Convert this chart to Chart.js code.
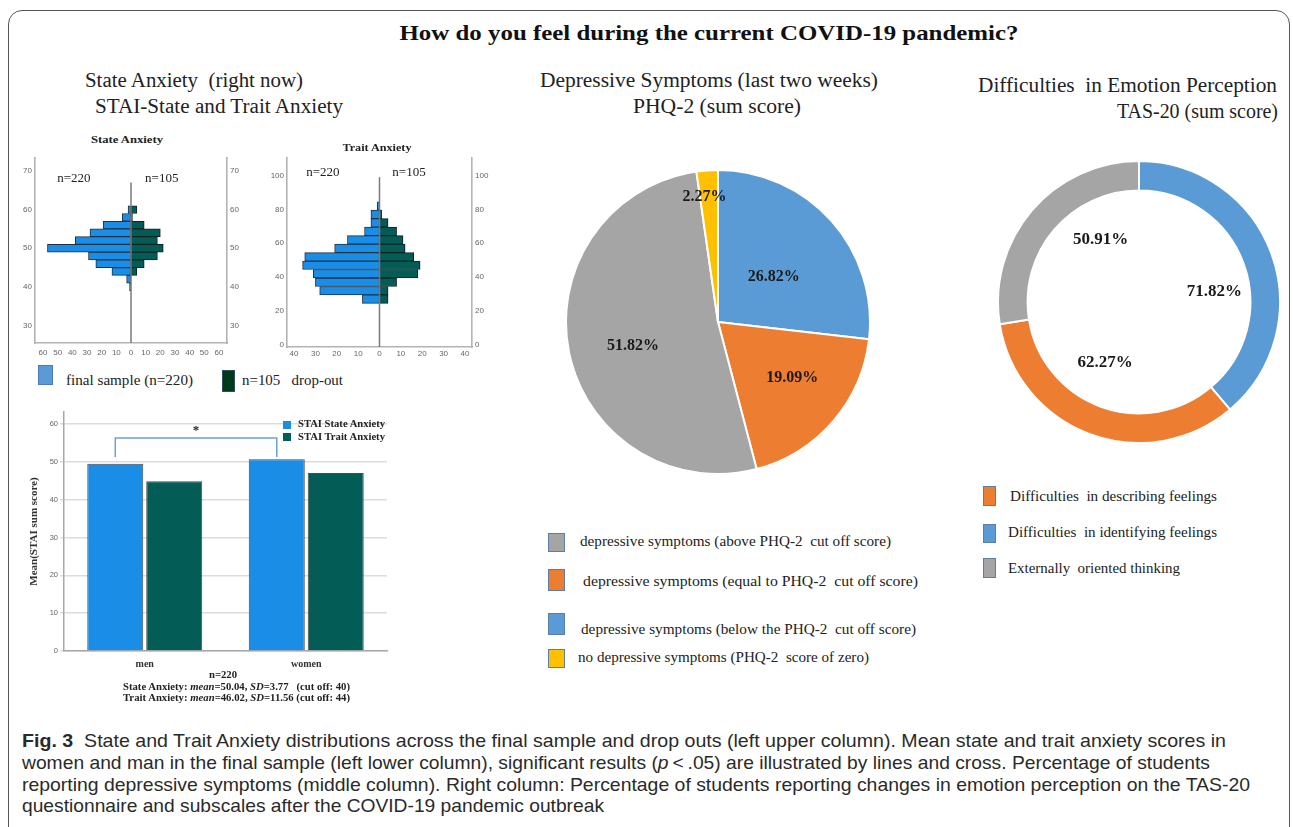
<!DOCTYPE html>
<html>
<head>
<meta charset="utf-8">
<script src="https://cdn.jsdelivr.net/npm/chart.js@4.4.1/dist/chart.umd.min.js"></script>
<style>
  html, body { margin:0; padding:0; background:#fff; }
  body { width:1293px; height:827px; position:relative; overflow:hidden; }
  .box { position:absolute; }
  .t { position:absolute; white-space:pre; line-height:1.2; color:#222; }
  .sq { position:absolute; box-sizing:border-box; }
  #frame { position:absolute; left:8px; top:10px; width:1282px; height:840px; border:1px solid #555; border-radius:14px; box-sizing:border-box; }
</style>
</head>
<body>
<div id="frame"></div>
<div class="box" id="bStateHist" style="left:15px;top:150px;width:235px;height:212px"><canvas id="cStateHist"></canvas></div>
<div class="box" id="bTraitHist" style="left:265px;top:150px;width:230px;height:212px"><canvas id="cTraitHist"></canvas></div>
<div class="box" id="bBar" style="left:20px;top:405px;width:375px;height:265px"><canvas id="cBar"></canvas></div>
<div class="box" id="bPie" style="left:565px;top:169px;width:306px;height:306px"><canvas id="cPie"></canvas></div>
<div class="box" id="bDonut" style="left:997px;top:160px;width:284px;height:284px"><canvas id="cDonut"></canvas></div>
<script>
// ---------------- DATA ----------------
// State anxiety histogram (bin centres, counts)
const stateBins  = [60, 58, 56, 54, 52, 50, 48, 46, 44, 42, 40];
const stateFinal = [2, 6, 19, 28, 38, 57, 29, 24, 13, 3, 1];
const stateDrop  = [4, 1, 9, 20, 18, 22, 18, 9, 4, 0, 0];
// Trait anxiety histogram
const traitBins  = [82, 77, 72, 67, 62, 57, 52, 47, 42, 37, 32, 27];
const traitFinal = [1, 4, 4, 7, 15, 21, 35, 36, 31, 30, 28, 8];
const traitDrop  = [0, 1, 4, 8, 11, 12, 16, 19, 18, 8, 4, 4];
// Mean STAI by gender
const genders    = ['men', 'women'];
const stateMeans = [49.5, 50.7];
const traitMeans = [44.9, 47.1];
// PHQ-2
const phqLabels = ['depressive symptoms (below the PHQ-2  cut off score)',
                   'depressive symptoms (equal to PHQ-2  cut off score)',
                   'depressive symptoms (above PHQ-2  cut off score)',
                   'no depressive symptoms (PHQ-2  score of zero)'];
const phqValues = [26.82, 19.09, 51.82, 2.27];
// TAS-20
const tasLabels = ['Difficulties  in identifying feelings', 'Difficulties  in describing feelings', 'Externally  oriented thinking'];
const tasValues = [71.82, 62.27, 50.91];

// ---------------- STYLE ----------------
const BLUE_H = '#1a8de6', TEAL_H = '#035c56';
const C_BLUE = '#5b9bd5', C_ORANGE = '#ed7d31', C_GRAY = '#a5a5a5', C_YELLOW = '#ffc000';
const SERIF = '"Liberation Serif", "DejaVu Serif", serif';
const SANS = '"Liberation Sans", Arial, sans-serif';
Chart.defaults.animation = false;
Chart.defaults.responsive = true;
Chart.defaults.maintainAspectRatio = false;
Chart.defaults.plugins.legend.display = false;
Chart.defaults.plugins.tooltip.enabled = false;

// ---------------- TEXT HELPER ----------------
function T(html, x, y, o) {
  const d = document.createElement('div');
  d.className = 't';
  d.innerHTML = html;
  d.style.fontFamily = o.family || SERIF;
  d.style.fontSize = (o.size || 14) + 'px';
  d.style.fontWeight = o.weight || 'normal';
  if (o.color) d.style.color = o.color;
  d.style.left = x + 'px';
  d.style.top = y + 'px';
  document.body.appendChild(d);
  const w = d.getBoundingClientRect().width;
  const sx = o.w ? o.w / w : 1;
  const al = o.align || 'left';
  if (al === 'center') { d.style.transformOrigin = 'center center'; d.style.transform = `translate(-50%,-50%) scaleX(${sx})`; }
  else if (al === 'right') { d.style.transformOrigin = 'right center'; d.style.transform = `translate(-100%,-50%) scaleX(${sx})`; }
  else { d.style.transformOrigin = 'left center'; d.style.transform = `translate(0,-50%) scaleX(${sx})`; }
  return d;
}
function SQ(x, y, w, h, fill, border) {
  const d = document.createElement('div');
  d.className = 'sq';
  Object.assign(d.style, { left: x + 'px', top: y + 'px', width: w + 'px', height: h + 'px', background: fill, border: '1.5px solid ' + (border || '#5a7ea8') });
  document.body.appendChild(d);
}

// ---------------- HISTOGRAMS ----------------
const pyramidPlugin = {
  id: 'pyramid',
  afterDatasetsDraw(chart, args, opts) {
    const { ctx, scales: { x, y } } = chart;
    ctx.save();
    ctx.strokeStyle = '#7a7a7a';
    ctx.lineWidth = 1.5;
    ctx.beginPath();
    ctx.moveTo(x.getPixelForValue(0), y.getPixelForValue(y.min));
    ctx.lineTo(x.getPixelForValue(0), y.getPixelForValue(opts.lineTop));
    ctx.stroke();
    ctx.fillStyle = '#222';
    ctx.font = '13px ' + SERIF;
    ctx.textAlign = 'center';
    ctx.textBaseline = 'middle';
    opts.notes.forEach(n => ctx.fillText(n.text, x.getPixelForValue(n.x), y.getPixelForValue(n.y)));
    ctx.restore();
  }
};
function pyramid(id, bins, left, right, cfg) {
  const tickFont = { family: SANS, size: 8 };
  const yAxis = (pos, w) => ({
    type: 'linear', position: pos, min: cfg.ymin, max: cfg.ymax, stacked: pos === 'left', offset: false,
    grid: { display: false, drawTicks: false, offset: false },
    border: { display: true, color: '#b3b3b3', width: 1.6 },
    ticks: { stepSize: cfg.ystep, includeBounds: false, font: tickFont, color: '#666', padding: 3, autoSkip: false },
    afterFit: s => { s.width = w; }
  });
  return new Chart(document.getElementById(id), {
    type: 'bar',
    data: {
      datasets: [
        { data: bins.map((b, i) => ({ x: -left[i], y: b })), backgroundColor: BLUE_H, borderColor: '#203040', borderWidth: 1, borderSkipped: false, stack: 's' },
        { data: bins.map((b, i) => ({ x: right[i], y: b })), backgroundColor: TEAL_H, borderColor: '#102020', borderWidth: 1, borderSkipped: false, stack: 's' }
      ]
    },
    options: {
      indexAxis: 'y',
      categoryPercentage: 1, barPercentage: 1,
      layout: { padding: { top: cfg.padTop, left: 0, right: 0, bottom: 0 } },
      scales: {
        x: {
          type: 'linear', min: -cfg.xmax, max: cfg.xmax, stacked: true, offset: false,
          grid: { display: false, drawTicks: false },
          border: { display: true, color: '#b3b3b3', width: 1.6 },
          ticks: { stepSize: 10, includeBounds: false, autoSkip: false, maxRotation: 0, font: tickFont, color: '#666', padding: cfg.xpad, callback: v => Math.abs(v) },
          afterFit: s => { s.height = cfg.xh; }
        },
        y: yAxis('left', cfg.lw),
        y2: yAxis('right', cfg.rw)
      },
      plugins: { pyramid: { lineTop: cfg.lineTop, notes: cfg.notes } }
    },
    plugins: [pyramidPlugin]
  });
}
pyramid('cStateHist', stateBins, stateFinal, stateDrop, {
  ymin: 25.5, ymax: 73.4, ystep: 10, xmax: 65.5, padTop: 5, xh: 19, xpad: 5, lw: 20, rw: 23,
  lineTop: 67, notes: [{ text: 'n=220', x: -39, y: 67.9 }, { text: 'n=105', x: 21, y: 67.9 }]
});
pyramid('cTraitHist', traitBins, traitFinal, traitDrop, {
  ymin: -1.2, ymax: 110.4, ystep: 20, xmax: 43.3, padTop: 7, xh: 15, xpad: 2, lw: 22, rw: 23,
  lineTop: 99, notes: [{ text: 'n=220', x: -26.5, y: 101.4 }, { text: 'n=105', x: 13.8, y: 101.4 }]
});

// ---------------- BAR CHART ----------------
const sigPlugin = {
  id: 'sig',
  afterDatasetsDraw(chart) {
    const { ctx, scales: { y } } = chart;
    const m = chart.getDatasetMeta(0).data;
    const x1 = m[0].x, x2 = m[1].x;
    const yb = y.getPixelForValue(51.3), yt = y.getPixelForValue(56.3);
    ctx.save();
    ctx.strokeStyle = '#6aa0db';
    ctx.lineWidth = 1.5;
    ctx.beginPath();
    ctx.moveTo(x1, yb); ctx.lineTo(x1, yt); ctx.lineTo(x2, yt); ctx.lineTo(x2, yb);
    ctx.stroke();
    ctx.fillStyle = '#222';
    ctx.font = 'bold 13px ' + SERIF;
    ctx.textAlign = 'center'; ctx.textBaseline = 'middle';
    ctx.fillText('*', (x1 + x2) / 2, y.getPixelForValue(58.3));
    ctx.restore();
  }
};
new Chart(document.getElementById('cBar'), {
  type: 'bar',
  data: {
    labels: genders,
    datasets: [
      { label: 'STAI State Anxiety', data: stateMeans, backgroundColor: BLUE_H, borderColor: '#4a4a4a', borderWidth: 1 },
      { label: 'STAI Trait Anxiety', data: traitMeans, backgroundColor: TEAL_H, borderColor: '#4a4a4a', borderWidth: 1 }
    ]
  },
  options: {
    categoryPercentage: 0.73, barPercentage: 0.95,
    layout: { padding: { top: 7, right: 8, left: 0, bottom: 0 } },
    scales: {
      x: {
        grid: { display: false, drawTicks: false },
        border: { display: true, color: '#a8a8a8', width: 1.5 },
        ticks: { font: { family: SERIF, size: 10, weight: 'bold' }, color: '#333', padding: 7 },
        afterFit: s => { s.height = 19; }
      },
      y: {
        min: 0, max: 63.2,
        grid: { color: '#dcdcdc', lineWidth: 1.5, tickLength: 4 },
        border: { display: true, color: '#a8a8a8', width: 1.5 },
        ticks: { stepSize: 10, includeBounds: false, font: { family: SANS, size: 7.5 }, color: '#666', padding: 2 },
        title: { display: true, text: 'Mean(STAI sum score)', font: { family: SERIF, size: 11, weight: 'bold' }, color: '#333', padding: { top: 8, bottom: 2 } },
        afterFit: s => { s.width = 44; }
      }
    }
  },
  plugins: [sigPlugin]
});

// ---------------- PIE / DOUGHNUT ----------------
const arcLabelPlugin = {
  id: 'arcLabels',
  afterDatasetsDraw(chart, args, opts) {
    const ctx = chart.ctx;
    const meta = chart.getDatasetMeta(0);
    const vals = chart.data.datasets[0].data;
    ctx.save();
    ctx.fillStyle = '#1a1a1a';
    ctx.font = 'bold ' + opts.size + 'px ' + SERIF;
    ctx.textAlign = 'center'; ctx.textBaseline = 'middle';
    meta.data.forEach((arc, i) => {
      const p = arc.getProps(['x', 'y', 'startAngle', 'endAngle', 'outerRadius'], true);
      const a = (p.startAngle + p.endAngle) / 2 + opts.shift[i] * Math.PI / 180;
      const r = p.outerRadius * opts.radius[i];
      ctx.fillText(vals[i].toFixed(2) + '%', p.x + Math.cos(a) * r, p.y + Math.sin(a) * r);
    });
    ctx.restore();
  }
};
new Chart(document.getElementById('cPie'), {
  type: 'pie',
  data: { labels: phqLabels, datasets: [{ data: phqValues, backgroundColor: [C_BLUE, C_ORANGE, C_GRAY, C_YELLOW], borderColor: '#fff', borderWidth: 2 }] },
  options: { layout: { padding: 0 }, plugins: { arcLabels: { size: 16, radius: [0.47, 0.61, 0.58, 0.83], shift: [3, -4, -4, -2] } } },
  plugins: [arcLabelPlugin]
});
new Chart(document.getElementById('cDonut'), {
  type: 'doughnut',
  data: { labels: tasLabels, datasets: [{ data: tasValues, backgroundColor: [C_BLUE, C_ORANGE, C_GRAY], borderColor: '#fff', borderWidth: 2 }] },
  options: { cutout: '79%', layout: { padding: 0 }, plugins: { arcLabels: { size: 17, radius: [0.54, 0.49, 0.52], shift: [12, 9, 18] } } },
  plugins: [arcLabelPlugin]
});

// ---------------- TEXTS ----------------
T('How do you feel during the current COVID-19 pandemic?', 709, 33, { size: 22, weight: 'bold', w: 619, align: 'center', color: '#111' });
T('State Anxiety  (right now)', 85, 80, { size: 20, w: 218 });
T('STAI-State and Trait Anxiety', 95, 106, { size: 20, w: 248 });
T('Depressive Symptoms (last two weeks)', 540, 80, { size: 20, w: 338 });
T('PHQ-2 (sum score)', 717, 106, { size: 20, w: 168, align: 'center' });
T('Difficulties  in Emotion Perception', 978, 85, { size: 20, w: 299 });
T('TAS-20 (sum score)', 1278, 111, { size: 20, w: 161, align: 'right' });

T('State Anxiety', 127, 140, { size: 11, weight: 'bold', w: 72, align: 'center' });
T('Trait Anxiety', 377, 148, { size: 11, weight: 'bold', w: 69, align: 'center' });

SQ(38, 365, 15, 20, C_BLUE, '#4a7db5');
T('final sample (n=220)', 66, 380, { size: 15, w: 127 });
SQ(222, 370, 13, 22, '#003a1c', '#2f4f5f');
T('n=105   drop-out', 242, 380, { size: 15, w: 101 });

SQ(283, 421, 8, 8, BLUE_H, BLUE_H);
T('STAI State Anxiety', 298, 424, { size: 10, weight: 'bold', w: 87 });
SQ(283, 433, 8, 8, TEAL_H, TEAL_H);
T('STAI Trait Anxiety', 298, 437, { size: 10, weight: 'bold', w: 87 });

T('n=220', 223, 675, { size: 10, weight: 'bold', w: 28, align: 'center' });
T('State Anxiety: <i>mean</i>=50.04, <i>SD</i>=3.77   (cut off: 40)', 123, 687, { size: 10, weight: 'bold', w: 227 });
T('Trait Anxiety: <i>mean</i>=46.02, <i>SD</i>=11.56 (cut off: 44)', 123, 698, { size: 10, weight: 'bold', w: 227 });

// PHQ-2 legend
SQ(548, 533, 17, 19, C_GRAY);
T(phqLabels[2], 580, 542, { size: 14, w: 311 });
SQ(548, 569, 17, 22, C_ORANGE);
T(phqLabels[1], 583, 582, { size: 14, w: 335 });
SQ(548, 613, 17, 22, C_BLUE);
T(phqLabels[0], 581, 630, { size: 14, w: 335 });
SQ(548, 649, 17, 19, C_YELLOW);
T(phqLabels[3], 578, 658, { size: 14, w: 291 });

// TAS-20 legend
SQ(983, 486, 13, 20, C_ORANGE);
T(tasLabels[1], 1010, 497, { size: 14, w: 207 });
SQ(983, 524, 13, 19, C_BLUE);
T(tasLabels[0], 1008, 533, { size: 14, w: 209 });
SQ(983, 558, 13, 20, C_GRAY);
T(tasLabels[2], 1008, 569, { size: 14, w: 172 });

// Caption
const CAP = '"Liberation Sans Narrow", "Liberation Sans", "Noto Sans", sans-serif';
T('<b>Fig. 3</b>  State and Trait Anxiety distributions across the final sample and drop outs (left upper column). Mean state and trait anxiety scores in', 22, 741, { family: CAP, size: 19, w: 1204, color: '#2a2a2a' });
T('women and man in the final sample (left lower column), significant results (<i>p</i>&thinsp;&lt;&thinsp;.05) are illustrated by lines and cross. Percentage of students', 22, 763, { family: CAP, size: 19, w: 1188, color: '#2a2a2a' });
T('reporting depressive symptoms (middle column). Right column: Percentage of students reporting changes in emotion perception on the TAS-20', 22, 785, { family: CAP, size: 19, w: 1228, color: '#2a2a2a' });
T('questionnaire and subscales after the COVID-19 pandemic outbreak', 22, 806, { family: CAP, size: 19, w: 582, color: '#2a2a2a' });
</script>
</body>
</html>
